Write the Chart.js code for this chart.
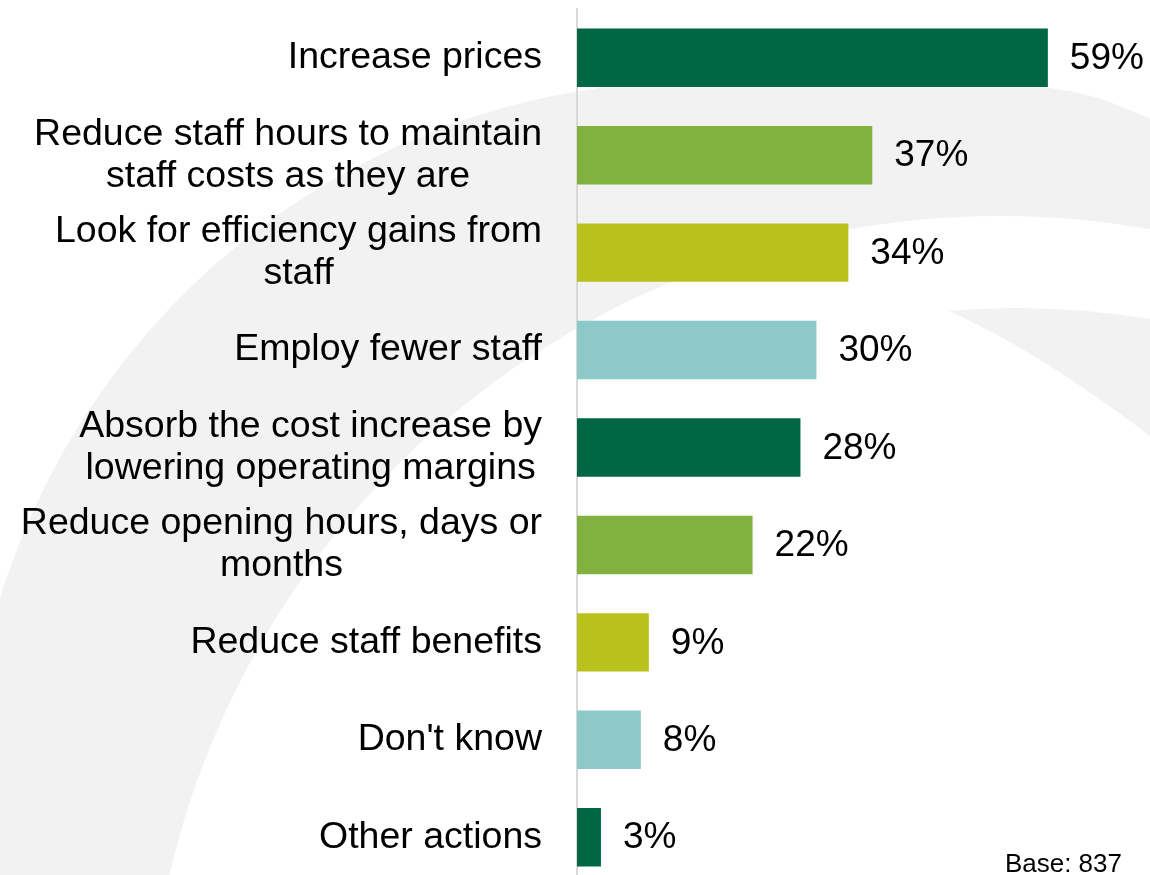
<!DOCTYPE html>
<html>
<head>
<meta charset="utf-8">
<script src="https://cdn.jsdelivr.net/npm/chart.js@4.4.0/dist/chart.umd.min.js"></script>
<style>
  html, body { margin: 0; padding: 0; background: #fff; overflow: hidden; }
  #wrap { position: relative; width: 1150px; height: 886px; }
</style>
</head>
<body>
<div id="wrap"><canvas id="chart"></canvas></div>
<script>
const categories = [
    ["Increase prices"],
    ["Reduce staff hours to maintain", "staff costs as they are"],
    ["Look for efficiency gains from", "staff"],
    ["Employ fewer staff"],
    ["Absorb the cost increase by", "lowering operating margins"],
    ["Reduce opening hours, days or", "months"],
    ["Reduce staff benefits"],
    ["Don't know"],
    ["Other actions"]
];
const values = [59, 37, 34, 30, 28, 22, 9, 8, 3];
const barColors = ['#006644', '#82b140', '#b9c21c', '#8cc9c8', '#006644', '#82b140', '#b9c21c', '#8cc9c8', '#006644'];
const baseNote = 'Base: 837';

const FONT = '"Liberation Sans", Arial, sans-serif';

// smooth curve through a list of points (catmull-rom -> bezier)
function smoothThrough(ctx, pts) {
    ctx.moveTo(pts[0][0], pts[0][1]);
    for (let i = 0; i < pts.length - 1; i++) {
        const p0 = pts[i - 1] || pts[i], p1 = pts[i], p2 = pts[i + 1], p3 = pts[i + 2] || p2;
        ctx.bezierCurveTo(
            p1[0] + (p2[0] - p0[0]) / 6, p1[1] + (p2[1] - p0[1]) / 6,
            p2[0] - (p3[0] - p1[0]) / 6, p2[1] - (p3[1] - p1[1]) / 6,
            p2[0], p2[1]);
    }
}

// light grey swoosh behind the chart
const backdrop = {
    id: 'backdrop',
    beforeDraw(chart) {
        const ctx = chart.ctx;
        ctx.save();
        // outer edge: circular on the left, flattening out on the right
        const edge = [];
        for (let x = -20; x <= 620; x += 20) {
            edge.push([x, 813 - Math.sqrt(732 * 732 - (x - 700) * (x - 700))]);
        }
        edge.push([820, 76], [1050, 88], [1150, 118], [1170, 125]);
        ctx.fillStyle = '#f2f2f2';
        ctx.beginPath();
        smoothThrough(ctx, edge);
        ctx.lineTo(1170, 900);
        ctx.lineTo(-20, 900);
        ctx.closePath();
        ctx.fill();
        ctx.fillStyle = '#ffffff';
        ctx.beginPath();
        ctx.arc(1000, 1069, 853, 0, Math.PI * 2);
        ctx.fill();
        ctx.fillStyle = '#f2f2f2';
        ctx.beginPath();
        ctx.moveTo(949, 311);
        ctx.quadraticCurveTo(1045, 302, 1150, 319);
        ctx.lineTo(1150, 436);
        ctx.quadraticCurveTo(1040, 352, 949, 311);
        ctx.fill();
        ctx.restore();
    }
};

// category labels: block right-aligned, lines centred in the block
const catLabels = {
    id: 'catLabels',
    afterDraw(chart) {
        const ctx = chart.ctx;
        const y = chart.scales.y;
        const right = 542, lh = 42;
        ctx.save();
        ctx.font = '37.5px ' + FONT;
        ctx.fillStyle = '#000';
        ctx.textAlign = 'center';
        ctx.textBaseline = 'middle';
        categories.forEach((lines, i) => {
            const w = Math.max(...lines.map(l => ctx.measureText(l).width));
            const cx = right - w / 2;
            const cy = y.getPixelForTick(i);
            lines.forEach((l, j) => {
                ctx.fillText(l, cx, cy + (j - (lines.length - 1) / 2) * lh);
            });
        });
        ctx.restore();
    }
};

// value labels at the end of each bar, plus the base note
const valueLabels = {
    id: 'valueLabels',
    afterDatasetsDraw(chart) {
        const ctx = chart.ctx;
        const meta = chart.getDatasetMeta(0);
        ctx.save();
        ctx.font = '37px ' + FONT;
        ctx.fillStyle = '#000';
        ctx.textAlign = 'left';
        ctx.textBaseline = 'middle';
        meta.data.forEach((bar, i) => {
            ctx.fillText(values[i] + '%', bar.x + 22, bar.y + 1);
        });
        ctx.font = '26px ' + FONT;
        ctx.textAlign = 'right';
        ctx.textBaseline = 'alphabetic';
        ctx.fillText(baseNote, 1122, 872);
        ctx.restore();
    }
};

new Chart(document.getElementById('chart'), {
    type: 'bar',
    data: {
        labels: categories,
        datasets: [{
            data: values,
            backgroundColor: barColors,
            borderWidth: 0,
            barPercentage: 0.6,
            categoryPercentage: 1.0
        }]
    },
    options: {
        indexAxis: 'y',
        responsive: true,
        maintainAspectRatio: false,
        animation: false,
        layout: { padding: { top: 9, bottom: 0, left: 0, right: 0 } },
        scales: {
            x: { display: false, min: 0, max: 71.8 },
            y: {
                grid: { display: false },
                border: { display: true, color: '#d9d9d9', width: 2 },
                ticks: { display: false },
                afterFit(s) { s.width = 577; }
            }
        },
        plugins: { legend: { display: false }, tooltip: { enabled: false } }
    },
    plugins: [backdrop, catLabels, valueLabels]
});
</script>
</body>
</html>
